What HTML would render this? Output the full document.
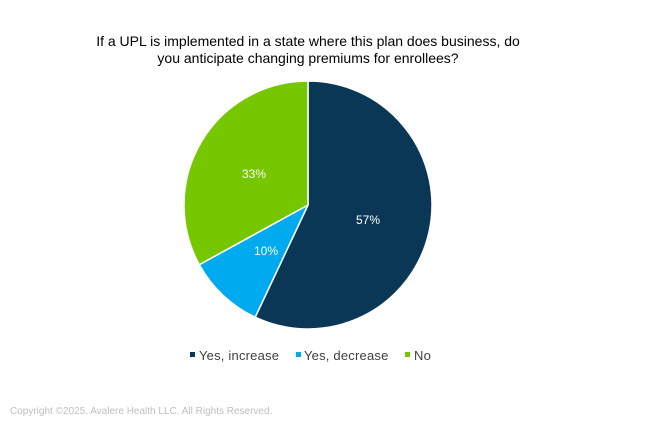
<!DOCTYPE html>
<html><head><style>
body{margin:0;background:#fff;}
svg{display:block;font-family:"Liberation Sans",Arial,sans-serif;}
</style></head><body>
<svg width="654" height="430" viewBox="0 0 654 430" xmlns="http://www.w3.org/2000/svg">
<rect width="654" height="430" fill="#fff"/>
<text x="308" y="46" font-size="14" text-anchor="middle" fill="#000">If a UPL is implemented in a state where this plan does business, do</text>
<text x="308" y="63" font-size="14" text-anchor="middle" fill="#000">you anticipate changing premiums for enrollees?</text>
<g stroke="#fff" stroke-width="1.5" stroke-linejoin="round">
<path d="M308,205 L308,81 A124,124 0 1 1 255.2,317.2 Z" fill="#0b3757"/>
<path d="M308,205 L255.2,317.2 A124,124 0 0 1 199.3,264.7 Z" fill="#00aaef"/>
<path d="M308,205 L199.3,264.7 A124,124 0 0 1 308,81 Z" fill="#77c700"/>
</g>
<text x="368" y="224" font-size="12" fill="#fff" text-anchor="middle">57%</text>
<text x="266" y="255" font-size="12" fill="#fff" text-anchor="middle">10%</text>
<text x="254" y="178" font-size="12" fill="#fff" text-anchor="middle">33%</text>
<g font-size="13" fill="#404040" letter-spacing="0.2">
<rect x="190" y="352" width="5" height="5" fill="#0b3757"/>
<text x="199" y="360">Yes, increase</text>
<rect x="296" y="352" width="5" height="5" fill="#00aaef"/>
<text x="304" y="360">Yes, decrease</text>
<rect x="405" y="352" width="5" height="5" fill="#77c700"/>
<text x="414" y="360">No</text>
</g>
<text x="10" y="414" font-size="10" fill="#bfbfbf">Copyright ©2025. Avalere Health LLC. All Rights Reserved.</text>
</svg>
</body></html>
